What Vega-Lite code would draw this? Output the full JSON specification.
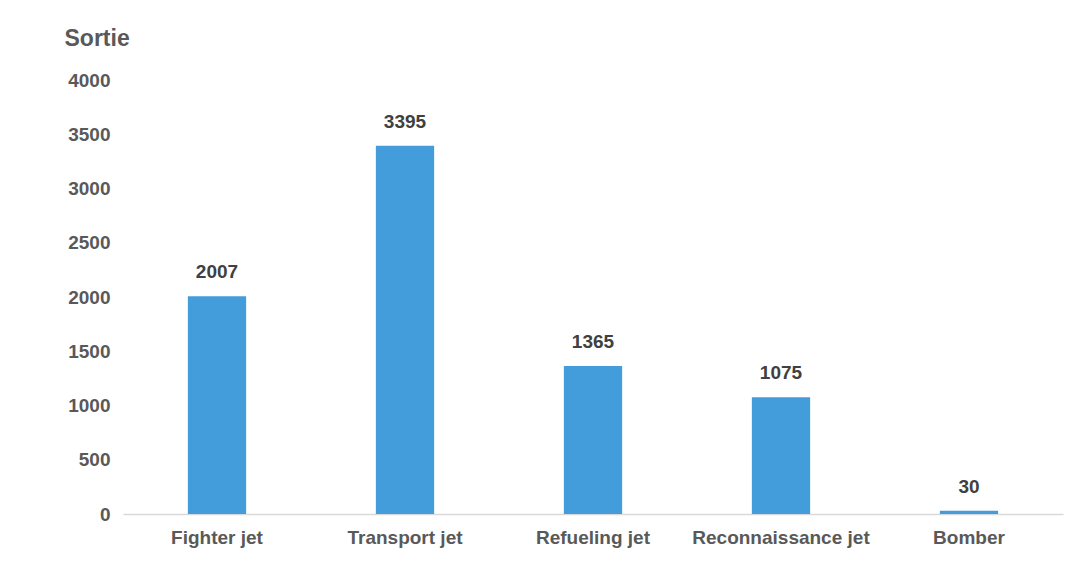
{
  "$schema": "https://vega.github.io/schema/vega-lite/v6.json",
  "width": 940,
  "height": 434,
  "autosize": "none",
  "padding": {"left": 123, "top": 80, "right": 13, "bottom": 67},
  "background": "white",
  "config": {
    "view": {"stroke": null},
    "font": "Liberation Sans"
  },
  "data": {
    "values": [
      {"type": "Fighter jet", "sortie": 2007},
      {"type": "Transport jet", "sortie": 3395},
      {"type": "Refueling jet", "sortie": 1365},
      {"type": "Reconnaissance jet", "sortie": 1075},
      {"type": "Bomber", "sortie": 30}
    ]
  },
  "encoding": {
    "x": {
      "field": "type",
      "type": "nominal",
      "sort": null,
      "scale": {"paddingInner": 0.69, "paddingOuter": 0.345},
      "axis": {
        "title": null,
        "labelAngle": 0,
        "labelFont": "Liberation Sans",
        "labelFontWeight": "bold",
        "labelFontSize": 19,
        "labelColor": "#595959",
        "labelPadding": 14,
        "ticks": false,
        "domainColor": "#d9d9d9",
        "domainWidth": 1.5,
        "grid": false
      }
    },
    "y": {
      "field": "sortie",
      "type": "quantitative",
      "scale": {"domain": [0, 4000], "nice": false},
      "axis": {
        "values": [0, 500, 1000, 1500, 2000, 2500, 3000, 3500, 4000],
        "format": "d",
        "title": "Sortie",
        "titleAngle": 0,
        "titleAlign": "left",
        "titleBaseline": "alphabetic",
        "titleX": -59,
        "titleY": -35,
        "titleFont": "Liberation Sans",
        "titleFontSize": 23,
        "titleFontWeight": "bold",
        "titleColor": "#595959",
        "labelFont": "Liberation Sans",
        "labelFontWeight": "bold",
        "labelFontSize": 19,
        "labelColor": "#595959",
        "labelPadding": 13,
        "ticks": false,
        "domain": false,
        "grid": false
      }
    }
  },
  "layer": [
    {"mark": {"type": "bar", "color": "#449ddb"}},
    {
      "mark": {
        "type": "text",
        "dy": -18,
        "baseline": "alphabetic",
        "font": "Liberation Sans",
        "fontWeight": "bold",
        "fontSize": 19,
        "color": "#404040"
      },
      "encoding": {"text": {"field": "sortie", "type": "quantitative", "format": "d"}}
    }
  ]
}
